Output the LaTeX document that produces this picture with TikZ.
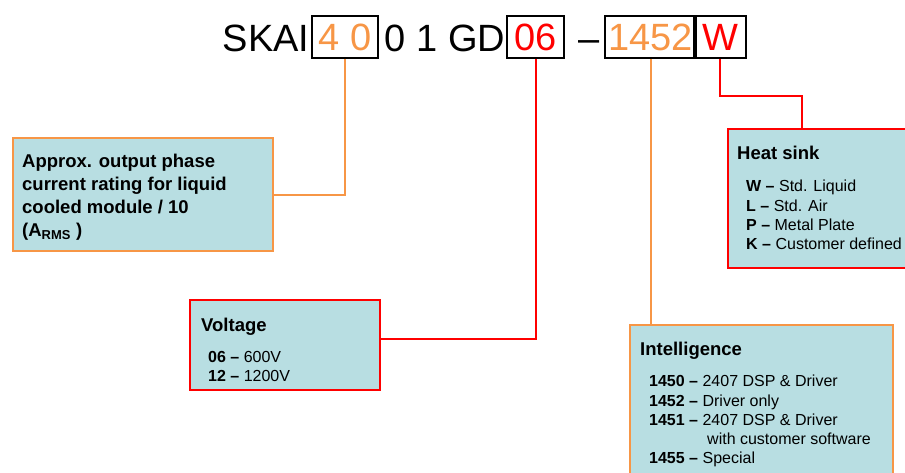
\documentclass[tikz,border=0pt]{standalone}
\usepackage{fontspec}
\setmainfont{Liberation Sans}
\usepackage{xcolor}
\usepackage{tikz}
\usetikzlibrary{positioning, calc}
\definecolor{boxcyan}{HTML}{B8DEE2}
\definecolor{codeorange}{HTML}{F79646}
\definecolor{codered}{HTML}{FF0000}

\begin{document}
\begin{tikzpicture}[
    x=1pt, y=-1pt,
    title/.style={font=\fontsize{38}{40}\selectfont, text height=28pt, text depth=0pt,
                  inner xsep=1pt, inner ysep=7pt},
    digit/.style={title, draw=black, line width=1.6pt, text=#1},
    info/.style={rectangle, draw=#1, line width=2.4pt, fill=boxcyan, anchor=north west,
                 inner sep=0pt},
    head/.style={font=\bfseries\fontsize{18.5}{23}\selectfont, anchor=north west, inner sep=0pt},
    list/.style={font=\fontsize{16}{19.3}\selectfont, align=left, anchor=north west, inner sep=0pt},
    link/.style={draw=#1, line width=2pt}
]
\useasboundingbox (0,0) rectangle (905,473);
\clip (0,0) rectangle (905,473);

% Part number
\node[title] at (266,38) (skai) {SKAI};
\node[digit=codeorange, minimum width=66pt] at (345,37) (rate) {4 0};
\node[title] at (445,38) (mid) {0 1 GD};
\node[digit=codered, minimum width=57pt] at (535.5,37) (volt-code) {06};
\node[title] at (589,38) (dash) {--};
\node[digit=codeorange, minimum width=91pt] at (650.5,37) (intel-code) {1452};
\node[digit=codered, minimum width=52pt] at (720,37) (sink-code) {W};

% Boxes
\node[info=codeorange, minimum width=260pt, minimum height=113pt] at (12,137) (rating) {};
\node[info=codered, minimum width=190pt, minimum height=90pt] at (189,299) (voltage) {};
\node[info=codered, minimum width=200pt, minimum height=139pt] at (727,128) (sink) {};
\node[info=codeorange, minimum width=263pt, minimum height=170pt] at (629,324) (intel) {};

% Box texts
\node[head, align=left] at (22,154) (rating-txt) {Approx. output phase\\current rating for liquid\\cooled module / 10\\(A\textsubscript{RMS} )};
\node[head] at (201,318) (voltage-head) {Voltage};
\node[list] at (208,351) (voltage-list) {\textbf{06 --} 600V\\\textbf{12 --} 1200V};
\node[head] at (737,146) (sink-head) {Heat sink};
\node[list] at (746,180) (sink-list) {\textbf{W --} Std. Liquid\\\textbf{L --} Std. Air\\\textbf{P --} Metal Plate\\\textbf{K --} Customer defined};
\node[head] at (640,342) (intel-head) {Intelligence};
\node[list] at (649,375) (intel-list) {\textbf{1450 --} 2407 DSP \& Driver\\\textbf{1452 --} Driver only\\\textbf{1451 --} 2407 DSP \& Driver\\\hspace*{58pt}with customer software\\\textbf{1455 --} Special};

% Connectors
\draw[link=codeorange] (rate.south) |- (rating.east);
\draw[link=codered] (volt-code.south) |- ([yshift=6pt]voltage.east);
\draw[link=codeorange] (intel-code.south) -- (intel-code.south |- intel.north);
\draw[link=codered] (sink-code.south) -- ++(0,37) -| ([xshift=75pt]sink.north west);

\end{tikzpicture}
\end{document}
